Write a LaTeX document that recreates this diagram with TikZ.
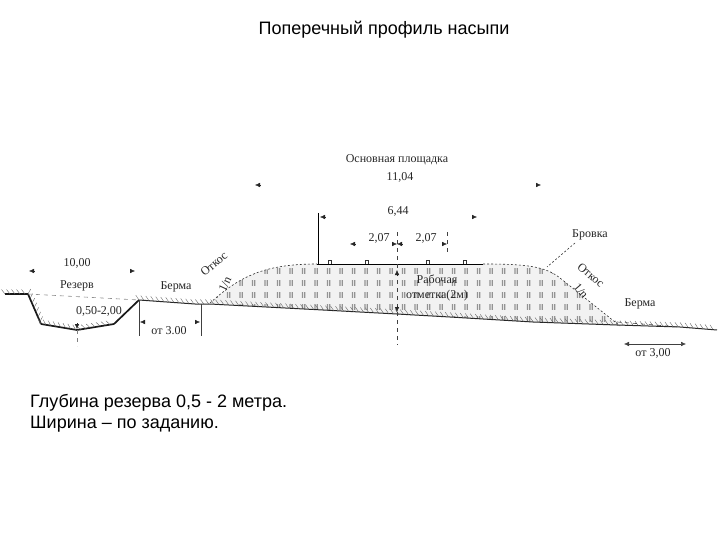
\documentclass[tikz,border=0pt]{standalone}
\usepackage{fontspec}
\setmainfont{Liberation Serif}
\newfontfamily\sansf{Liberation Sans}
\usetikzlibrary{arrows.meta,decorations.markings}
\tikzset{
  x=1pt,y=-1pt,
  lbl/.style={font=\fontsize{12}{15}\selectfont,text=black!85,inner sep=0pt},
  ttl/.style={font=\sansf\fontsize{18}{21}\selectfont,inner sep=0pt},
  note/.style={font=\sansf\fontsize{18}{21}\selectfont,inner sep=0pt,anchor=north west,align=left},
  ground/.style={line width=1pt,black!85},
  thick ground/.style={line width=1.7pt,black!90},
  hatched/.style={postaction={decorate,decoration={markings,mark=between positions 0 and 1 step 5pt with {\draw[line width=.4pt,solid,black!60] (0,0) -- (-3.5,-4.5);}}}},
  dim/.style={line width=.5pt,black!75},
  dimtip/.style={-{Latex[length=5pt,width=4.5pt]},line width=.4pt,black!85},
  guide/.style={line width=.6pt,black!75,dash pattern=on 4pt off 4pt},
  slope/.style={line width=.6pt,black!80,dash pattern=on 2pt off 2pt},
  fleck/.style={fill=black!62}
}
\begin{document}
\begin{tikzpicture}
\useasboundingbox (0,0) rectangle (720,540);
\fill[white] (0,0) rectangle (720,540);

% embankment fill with dots
\fill[black!5] (210,303) .. controls (240,276) and (265,264) .. (317,264) -- (483,264)
  .. controls (525,264) and (545,266) .. (560,278) -- (620,326) -- (533,322) -- (450,317) -- (397,314) -- (323,310) -- cycle;
\begin{scope}
\clip (210,303) .. controls (240,276) and (265,264) .. (317,264) -- (483,264)
  .. controls (525,264) and (545,266) .. (560,278) -- (620,326) -- (533,322) -- (450,317) -- (397,314) -- (323,310) -- cycle;
\foreach \r in {271,283,295,307,319}{
  \foreach \c in {216,228.5,...,620}{
    \fill[fleck] (\c-1.7,\r-2.6) rectangle +(1.3,1.3) (\c+.6,\r-2.6) rectangle +(1.3,1.3)
                 (\c-1.7,\r-.6) rectangle +(1.3,1.3) (\c+.6,\r-.6) rectangle +(1.3,1.3)
                 (\c-1.7,\r+1.4) rectangle +(1.3,1.3) (\c+.6,\r+1.4) rectangle +(1.3,1.3);
  }
}
\end{scope}

% ground
\draw[thick ground,hatched] (5,294) -- (28,294);
\draw[thick ground,hatched] (28,294) -- (41,324);
\draw[thick ground,hatched] (41,324) -- (77,330) -- (114,324);
\draw[thick ground] (114,324) -- (139,300);
\draw[ground,hatched] (139,300) -- (195,304) -- (210,304) -- (323,310) -- (397,314) -- (450,317) -- (533,322) -- (617,325) -- (680,327) -- (717,330);

% surface of embankment
\draw[line width=.9pt,black] (317,264) -- (483,264);
\draw[slope] (210,303) .. controls (240,276) and (265,264) .. (317,264);
\draw[slope] (483,264) .. controls (525,264) and (545,266) .. (560,278) -- (620,326);
\draw[guide] (617,322) -- (680,327);
\draw[guide,black!45] (28,294) -- (139,300);
\draw[slope] (575,243) -- (547,267);

% rails
\foreach \p in {330,367,428,465}{
  \draw[line width=.5pt,black!80] (\p-1.5,264) -- (\p-1.5,260.5) -- (\p+1.5,260.5) -- (\p+1.5,264);
}

% vertical guides
\draw[line width=.8pt,black] (318,213) -- (318,264);
\draw[guide] (397,232) -- (397,345);
\draw[guide] (447,232) -- (447,254);
\draw[guide,black!50] (77,330) -- (77,346);
\draw[dim] (139,300) -- (139,336);
\draw[dim] (201,304) -- (201,336);

% dimension tips
\coordinate (t1) at (260,185); \coordinate (t1h) at (255,185);
\coordinate (t2) at (536,185); \coordinate (t2h) at (541,185);
\coordinate (t3) at (325,217); \coordinate (t3h) at (320,217);
\coordinate (t4) at (472,217); \coordinate (t4h) at (477,217);
\coordinate (t5) at (355,244); \coordinate (t5h) at (350,244);
\coordinate (t6) at (402,244); \coordinate (t6h) at (397,244);
\coordinate (t7) at (392,244); \coordinate (t7h) at (397,244);
\coordinate (t8) at (442,244); \coordinate (t8h) at (447,244);
\coordinate (t9) at (34,271);  \coordinate (t9h) at (29,271);
\coordinate (t10) at (130,271); \coordinate (t10h) at (135,271);
\foreach \a/\b in {t1/t1h,t2/t2h,t3/t3h,t4/t4h,t5/t5h,t6/t6h,t7/t7h,t8/t8h,t9/t9h,t10/t10h}{
  \draw[dimtip] (\a) -- (\b);
}
\draw[dimtip] (77,323) -- (77,329);
\draw[dimtip] (397,276) -- (397,270);
\draw[dimtip] (397,306) -- (397,312);
\draw[dimtip] (144,322) -- (140,322);
\draw[dimtip] (196,322) -- (200,322);
\draw[{Latex[length=5pt,width=4.5pt]}-{Latex[length=5pt,width=4.5pt]},dim] (624,344) -- (686,344);

% labels
\node[ttl] (title) at (384,30) {Поперечный профиль насыпи};
\node[lbl] (main) at (397,160) {Основная площадка};
\node[lbl] (w11) at (400,177) {11,04};
\node[lbl] (w6) at (398,211) {6,44};
\node[lbl] (wa) at (379,238) {2,07};
\node[lbl] (wb) at (426,238) {2,07};
\node[lbl] (brow) at (590,235) {Бровка};
\node[lbl,rotate=40] (slL) at (214,264) {Откос};
\node[lbl,rotate=65] (nL) at (225,284) {1/n};
\node[lbl,rotate=-40] (slR) at (591,275) {Откос};
\node[lbl,rotate=-50] (nR) at (581,291) {1/n};
\node[lbl] (w10) at (77,263) {10,00};
\node[lbl] (res) at (77,286) {Резерв};
\node[lbl] (bermL) at (176,287) {Берма};
\node[lbl] (bermR) at (640,304) {Берма};
\node[lbl] (depth) at (99,311) {0,50-2,00};
\node[lbl] (a3L) at (169,331) {от 3.00};
\node[lbl] (a3R) at (653,353) {от 3,00};
\node[lbl,align=center] (work) at (437,288) {Рабочая\\отметка(2м)};
\node[note] (foot) at (30,394) {Глубина резерва 0,5 - 2 метра.\\Ширина – по заданию.};
\end{tikzpicture}
\end{document}
